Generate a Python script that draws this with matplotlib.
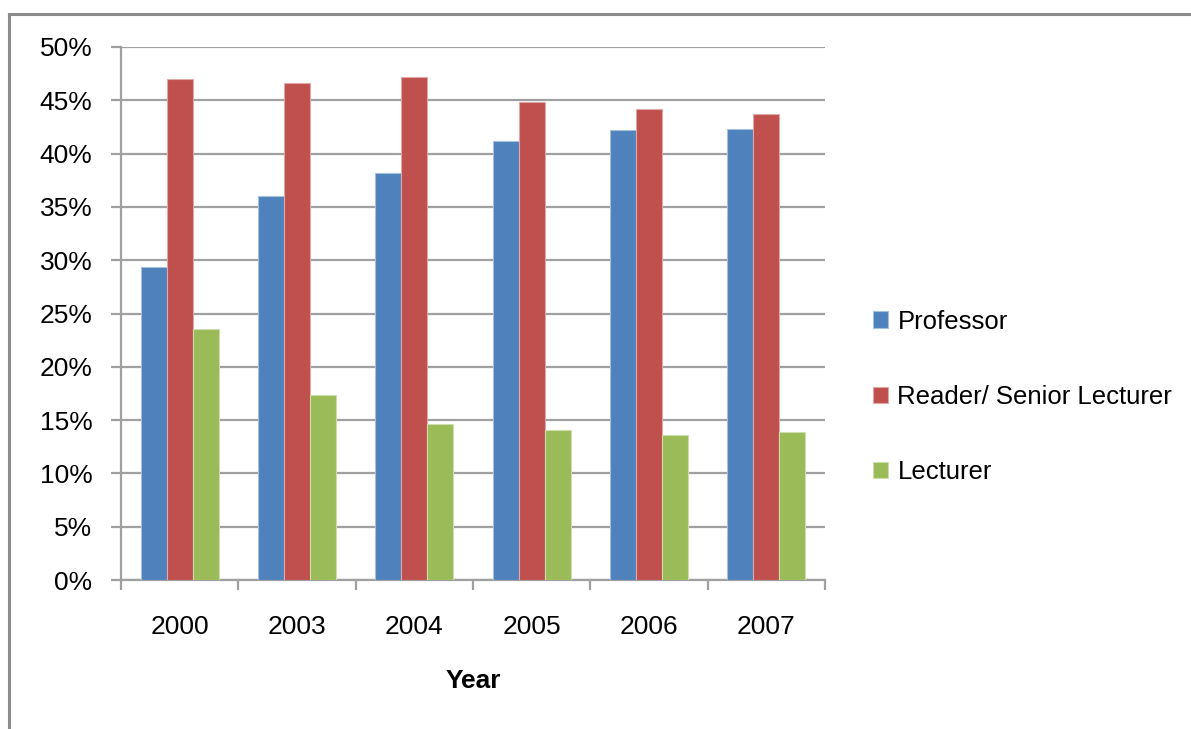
import matplotlib
matplotlib.use("Agg")
import matplotlib.pyplot as plt
import numpy as np
from matplotlib.lines import Line2D
from matplotlib.ticker import FuncFormatter, MultipleLocator, FixedLocator

# Share of staff by grade (percent)
years = ["2000", "2003", "2004", "2005", "2006", "2007"]
professor = [29.4, 36.0, 38.2, 41.2, 42.2, 42.3]
reader_senior = [47.0, 46.6, 47.2, 44.8, 44.2, 43.7]
lecturer = [23.5, 17.4, 14.6, 14.1, 13.6, 13.9]

series_names = ["Professor", "Reader/ Senior Lecturer", "Lecturer"]
series_colors = ["#4F81BD", "#C0504D", "#9BBB59"]
edge_colors = ["#A7C0DE", "#E0A8A6", "#CDDDAC"]

plt.rcParams["font.family"] = ["Liberation Sans", "DejaVu Sans"]

W, H = 1191, 729
fig = plt.figure(figsize=(W / 100, H / 100), dpi=100)
fig.patch.set_facecolor("white")

# chart-area frame (top and left edges)
frame_col = "#8C8C8C"
fig.add_artist(Line2D([9 / W, 1.0], [1 - 14 / H, 1 - 14 / H], transform=fig.transFigure,
                      color=frame_col, lw=2.2))
fig.add_artist(Line2D([9 / W, 9 / W], [0, 1 - 14 / H], transform=fig.transFigure,
                      color=frame_col, lw=2.2))

ax = fig.add_axes([121 / W, (H - 580) / H, (825 - 121) / W, (580 - 47) / H])

x = np.arange(len(years))
bw = 1 / 4.5
for i, (vals, name) in enumerate(zip([professor, reader_senior, lecturer], series_names)):
    ax.bar(x + (i - 1) * bw, vals, width=bw, color=series_colors[i],
           edgecolor=edge_colors[i], linewidth=0.8, label=name, zorder=3)

ax.set_xlim(-0.5, len(years) - 0.5)
ax.set_ylim(0, 50)

grid_col = "#A0A0A0"
ax.yaxis.set_major_locator(MultipleLocator(5))
ax.yaxis.set_major_formatter(FuncFormatter(lambda v, p: f"{v:.0f}%"))
ax.grid(axis="y", color=grid_col, lw=1.6, zorder=0)
ax.set_axisbelow(True)

for s in ["top", "right"]:
    ax.spines[s].set_visible(False)
for s in ["left", "bottom"]:
    ax.spines[s].set_color(grid_col)
    ax.spines[s].set_linewidth(1.6)

ax.tick_params(axis="y", direction="out", length=7.5, width=1.6, color=grid_col,
               pad=13, labelsize=19)

# year labels at group centres, tick marks at group boundaries
ax.set_xticks(x)
ax.set_xticklabels(years)
ax.tick_params(axis="x", which="major", length=0, pad=25, labelsize=19)
ax.xaxis.set_minor_locator(FixedLocator(np.arange(-0.5, len(years), 1.0)))
ax.tick_params(axis="x", which="minor", direction="out", length=7, width=1.6, color=grid_col)

ax.set_xlabel("Year", fontsize=19, fontweight="bold", labelpad=22)

fig.legend(loc="center left", bbox_to_anchor=(873 / W, (H - 397) / H),
           frameon=False, fontsize=18.5, handlelength=0.6, handleheight=0.6,
           handletextpad=0.35, labelspacing=2.0, borderpad=0, borderaxespad=0)

fig.savefig("out.png", dpi=100, facecolor="white")
